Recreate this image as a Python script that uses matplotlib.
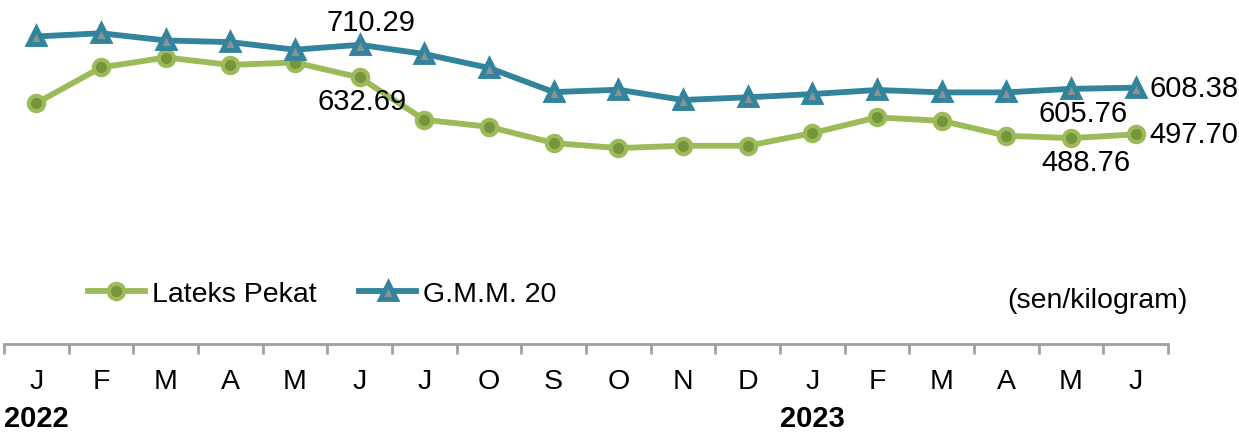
import numpy as np
import matplotlib.pyplot as plt
import matplotlib.transforms as mtransforms

plt.rcParams['font.family'] = ['Liberation Sans', 'DejaVu Sans']

months = ['J', 'F', 'M', 'A', 'M', 'J', 'J', 'O', 'S', 'O', 'N', 'D',
          'J', 'F', 'M', 'A', 'M', 'J']
years = ['2022', '2023']
year_pos = [0, 12]
lateks = [571.8, 656.4, 680.1, 662.6, 668.2, 632.69, 532.2, 515.6, 477.0,
          465.1, 470.6, 470.6, 500.7, 537.9, 529.8, 494.3, 488.76, 497.70]
gmm = [730.0, 737.7, 720.6, 716.6, 698.6, 710.29, 688.5, 655.4, 598.0,
       603.6, 579.3, 585.6, 593.3, 603.0, 597.3, 597.3, 605.76, 608.38]

green = '#9BBB59'
green_dark = '#77933C'
blue = '#31849B'

x = np.arange(len(months))

fig = plt.figure(figsize=(12.39, 4.39), dpi=100)
ax = fig.add_axes([4/1239, 1-345/439, 1164/1239, 337/439])

ax.plot(x, lateks, '-o', color=green, lw=4.2, ms=11, mfc=green_dark, mec=green,
        mew=3, label='Lateks Pekat')
ax.plot(x, gmm, '-^', color=blue, lw=4.2, ms=11.5, mfc='#8a9296', mec=blue,
        mew=3.5, label='G.M.M. 20')

ax.set_xlim(-0.5, len(months) - 0.5)
ax.set_ylim(0, 800)
ax.set_yticks([])
for s in ['left', 'top', 'right']:
    ax.spines[s].set_visible(False)
ax.spines['bottom'].set_color('#a0a0a0')
ax.spines['bottom'].set_linewidth(2)

ax.set_xticks(x)
ax.set_xticklabels(months, fontsize=20.5)
ax.tick_params(axis='x', which='major', length=0, pad=17)
ax.set_xticks(np.arange(-0.5, len(months), 1), minor=True)
ax.tick_params(axis='x', which='minor', length=7, width=2, color='#a0a0a0')

# data labels
fs = 21
ax.annotate('710.29', (5, gmm[5]), xytext=(8, 16.5), textcoords='offset points',
            ha='center', va='center', fontsize=fs)
ax.annotate('632.69', (5, lateks[5]), xytext=(2, -17), textcoords='offset points',
            ha='center', va='center', fontsize=fs)
ax.annotate('605.76', (16, gmm[16]), xytext=(9, -17.5), textcoords='offset points',
            ha='center', va='center', fontsize=fs)
ax.annotate('488.76', (16, lateks[16]), xytext=(11, -17.5), textcoords='offset points',
            ha='center', va='center', fontsize=fs)
ax.annotate('608.38', (17, gmm[17]), xytext=(10, 0), textcoords='offset points',
            ha='left', va='center', fontsize=fs, annotation_clip=False)
ax.annotate('497.70', (17, lateks[17]), xytext=(10, 0), textcoords='offset points',
            ha='left', va='center', fontsize=fs, annotation_clip=False)

trans = mtransforms.blended_transform_factory(ax.transData, ax.transAxes)
for yr, p in zip(years, year_pos):
    ax.text(p, -0.22, yr, transform=trans, ha='center', va='center',
            fontsize=21, fontweight='bold', clip_on=False)

ax.text(1.017, 0.13, '(sen/kilogram)', transform=ax.transAxes, ha='right',
        va='center', fontsize=20.5, clip_on=False)

ax.legend(loc='center left', bbox_to_anchor=(0.072, 0.147), ncol=2, frameon=False,
          fontsize=20.5, handlelength=2.0, handletextpad=0.25, columnspacing=1.5,
          borderpad=0, borderaxespad=0)

fig.savefig('out.png', dpi=100)
